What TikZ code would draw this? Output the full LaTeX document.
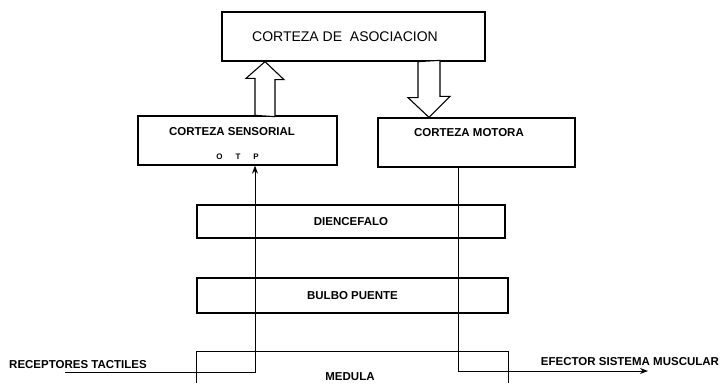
\documentclass[tikz,border=0pt]{standalone}
\usepackage{fontspec}
\setmainfont{Liberation Sans}
\usetikzlibrary{arrows.meta}

\tikzset{
  caja/.style={draw, line width=1.3pt, inner sep=0pt},
  etiqueta/.style={font=\fontsize{11.5}{13}\selectfont\bfseries, inner sep=0pt},
  via/.style={line width=1pt},
  punta/.style={-{Stealth[length=8pt, width=6pt]}},
  hueca/.style={draw, line width=1.1pt, fill=white, line join=miter},
}

\begin{document}
\begin{tikzpicture}[x=1pt, y=-1pt]
\useasboundingbox (0,0) rectangle (720,383);

% Corteza de asociacion
\node[caja, minimum width=263pt, minimum height=49pt] (asociacion) at (353.5,36.5) {};
\node[font=\fontsize{14}{16}\selectfont, inner sep=0pt] (asociaciontxt) at (345,37) {CORTEZA DE\ \ ASOCIACION};

% Corteza sensorial
\node[caja, minimum width=199pt, minimum height=49pt] (sensorial) at (237.5,140.5) {};
\node[etiqueta] (sensorialtxt) at (232,132) {CORTEZA SENSORIAL};
\node[etiqueta, font=\fontsize{8}{9}\selectfont\bfseries] (otp) at (237.5,157) {O\hspace{13pt}T\hspace{13pt}P};

% Corteza motora
\node[caja, minimum width=197pt, minimum height=49pt] (motora) at (476.5,142.5) {};
\node[etiqueta] (motoratxt) at (469,133) {CORTEZA MOTORA};

% Tronco encefalico
\node[caja, etiqueta, minimum width=308pt, minimum height=33pt] (diencefalo) at (351,221.5) {DIENCEFALO};
\node[caja, etiqueta, minimum width=311pt, minimum height=35pt] (bulbo) at (352.5,295.5) {BULBO PUENTE};

% Medula (abierta por abajo)
\node[inner sep=0pt, minimum width=311pt, minimum height=31pt] (medula) at (352.5,367.5) {};
\draw[line width=1.3pt] (medula.south west) |- (medula.north east) -- (medula.south east);
\node[etiqueta] (medulatxt) at (350,377) {MEDULA};

% Extremos
\coordinate (receptor) at (65,372);
\coordinate (efector) at (648,371);
\coordinate (ascenso) at (255,0);
\coordinate (descenso) at (458,0);
\coordinate (subida) at (265,0);
\coordinate (bajada) at (429,0);
\node[etiqueta] (receptortxt) at (78,365) {RECEPTORES TACTILES};
\node[etiqueta] (efectortxt) at (630,362) {EFECTOR SISTEMA MUSCULAR};

% Vias sensitiva y motora
\draw[via, punta] (receptor) -| (sensorial.south -| ascenso);
\draw[via, punta] (motora.south -| descenso) |- (efector);

% Flechas huecas
\draw[hueca] (sensorial.north -| subida) ++(-10,0) -- ++(0,-37) -- ++(-9,0) -- (asociacion.south -| subida)
  -- ++(19,18) -- ++(-9,0) -- ++(0,37) -- cycle;
\draw[hueca] (asociacion.south -| bajada) ++(-11,0) -- ++(0,36) -- ++(-10,0) -- (motora.north -| bajada)
  -- ++(21,-21) -- ++(-10,0) -- ++(0,-36) -- cycle;

\end{tikzpicture}
\end{document}
